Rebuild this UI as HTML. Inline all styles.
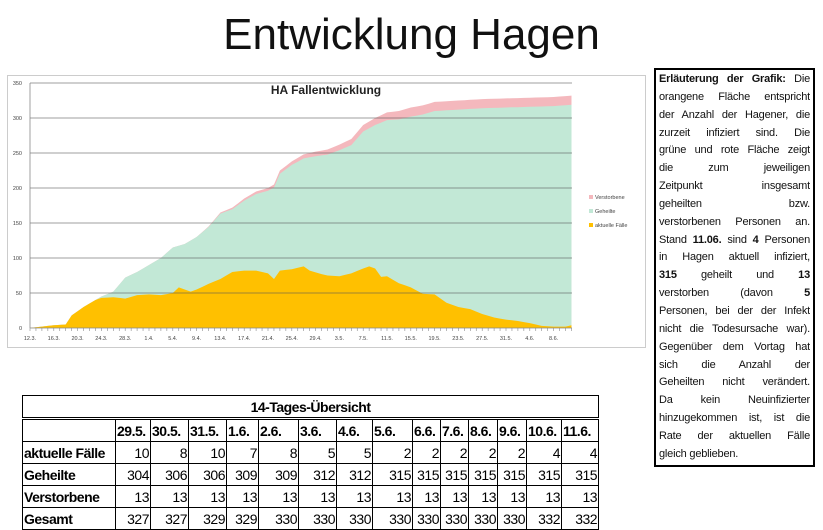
<!DOCTYPE html>
<html><head><meta charset="utf-8">
<style>
body{margin:0;width:823px;height:514px;overflow:hidden;background:#fff;font-family:"Liberation Sans",sans-serif;position:relative}
#title{position:absolute;left:0;width:823px;top:10px;text-align:center;font-size:44px;color:#111}
#box{position:absolute;left:654px;top:68px;width:151px;height:393px;border:2px solid #000;padding:1px 3px;font-size:11px;line-height:17.85px;color:#111;letter-spacing:-0.2px}
#box div{text-align:justify;text-align-last:justify;white-space:nowrap;overflow:hidden}
#box div.e{text-align-last:left}
table{position:absolute;left:22px;top:395px;border-collapse:collapse;font-size:14px;color:#000;table-layout:fixed;width:576px;letter-spacing:-0.5px}
td{border:1px solid #000;height:21px;padding:0 1px;text-align:right;line-height:20px;overflow:hidden;white-space:nowrap}
td.l{text-align:left;font-weight:bold}
tr.h td{text-align:left;font-weight:bold}
</style></head><body>
<div id="title">Entwicklung Hagen</div>
<svg width="823" height="514" style="position:absolute;left:0;top:0">
<rect x="7.5" y="75.5" width="638" height="272" fill="#fff" stroke="#ccc"/>
<g id="g"></g>
<text x="326" y="94" font-size="12" text-anchor="middle" font-weight="bold" fill="#222">HA Fallentwicklung</text>
<rect x="589" y="195" width="4" height="4" fill="#f4b8bd"/><text x="595" y="199" font-size="5.5" fill="#444">Verstorbene</text>
<rect x="589" y="209" width="4" height="4" fill="#c2e8d6"/><text x="595" y="213" font-size="5.5" fill="#444">Geheilte</text>
<rect x="589" y="223" width="4" height="4" fill="#ffc000"/><text x="595" y="227" font-size="5.5" fill="#444">aktuelle Fälle</text>
</svg>
<div id="box">
<div><b>Erläuterung der Grafik:</b> Die</div>
<div>orangene Fläche entspricht</div>
<div>der Anzahl der Hagener, die</div>
<div>zurzeit infiziert sind. Die</div>
<div>grüne und rote Fläche zeigt</div>
<div>die zum jeweiligen</div>
<div>Zeitpunkt insgesamt</div>
<div>geheilten bzw.</div>
<div>verstorbenen Personen an.</div>
<div>Stand <b>11.06.</b> sind <b>4</b> Personen</div>
<div>in Hagen aktuell infiziert,</div>
<div><b>315</b> geheilt und <b>13</b></div>
<div>verstorben (davon <b>5</b></div>
<div>Personen, bei der der Infekt</div>
<div>nicht die Todesursache war).</div>
<div>Gegenüber dem Vortag hat</div>
<div>sich die Anzahl der</div>
<div>Geheilten nicht verändert.</div>
<div>Da kein Neuinfizierter</div>
<div>hinzugekommen ist, ist die</div>
<div>Rate der aktuellen Fälle</div>
<div class="e">gleich geblieben.</div>
</div>
<table>
<colgroup><col style="width:93px"><col style="width:35px"><col style="width:38px"><col style="width:38px"><col style="width:32px"><col style="width:40px"><col style="width:38px"><col style="width:36px"><col style="width:40px"><col style="width:28px"><col style="width:28px"><col style="width:29px"><col style="width:29px"><col style="width:35px"><col style="width:37px"></colgroup>
<tr><td colspan="15" style="text-align:center;font-weight:bold;border-bottom:3px double #000">14-Tages-Übersicht</td></tr>
<tr class="h"><td></td><td>29.5.</td><td>30.5.</td><td>31.5.</td><td>1.6.</td><td>2.6.</td><td>3.6.</td><td>4.6.</td><td>5.6.</td><td>6.6.</td><td>7.6.</td><td>8.6.</td><td>9.6.</td><td>10.6.</td><td>11.6.</td></tr>
<tr><td class="l">aktuelle Fälle</td><td>10</td><td>8</td><td>10</td><td>7</td><td>8</td><td>5</td><td>5</td><td>2</td><td>2</td><td>2</td><td>2</td><td>2</td><td>4</td><td>4</td></tr>
<tr><td class="l">Geheilte</td><td>304</td><td>306</td><td>306</td><td>309</td><td>309</td><td>312</td><td>312</td><td>315</td><td>315</td><td>315</td><td>315</td><td>315</td><td>315</td><td>315</td></tr>
<tr><td class="l">Verstorbene</td><td>13</td><td>13</td><td>13</td><td>13</td><td>13</td><td>13</td><td>13</td><td>13</td><td>13</td><td>13</td><td>13</td><td>13</td><td>13</td><td>13</td></tr>
<tr><td class="l">Gesamt</td><td>327</td><td>327</td><td>329</td><td>329</td><td>330</td><td>330</td><td>330</td><td>330</td><td>330</td><td>330</td><td>330</td><td>330</td><td>332</td><td>332</td></tr>
</table>
<script>
var X0=30,DX=5.95,Y0=328,S=0.7;
function interp(k,d){for(var i=0;i<k.length-1;i++){if(d>=k[i][0]&&d<=k[i+1][0]){var t=(d-k[i][0])/(k[i+1][0]-k[i][0]);return k[i][1]+t*(k[i+1][1]-k[i][1]);}}return k[k.length-1][1];}
var act=[[0,0],[2,2],[4,4],[6,5],[7,18],[9,30],[11,40],[12,43],[14,44],[16,42],[18,47],[20,48],[22,47],[24,50],[25,58],[26,55],[27,52],[28,55],[30,63],[32,70],[34,80],[36,82],[38,82],[40,78],[41,70],[42,82],[44,84],[46,88],[47,82],[49,77],[50,75],[52,74],[54,78],[56,85],[57,88],[58,85],[59,73],[60,74],[62,64],[64,58],[66,49],[68,48],[70,36],[72,30],[74,27],[76,20],[78,15],[80,12],[82,10],[84,7],[86,3],[88,2],[90,2],[91,4]];
var tot=[[0,0],[2,2],[4,4],[6,5],[7,18],[9,30],[11,40],[12,45],[14,52],[16,72],[18,80],[20,90],[22,100],[24,115],[26,120],[28,130],[30,145],[32,165],[34,172],[36,185],[38,195],[40,200],[41,205],[42,225],[44,238],[46,248],[48,252],[50,255],[52,262],[54,270],[56,290],[58,300],[60,308],[62,310],[64,315],[66,318],[68,323],[72,325],[76,327],[80,328],[84,329],[88,330],[91,332]];
var dead=[[0,0],[28,0],[36,3],[44,5],[52,8],[58,10],[64,13],[91,13]];
function path(f,c){var s="M"+X0+","+Y0;for(var d=0;d<=91;d++){var v=f(d);s+=" L"+(X0+d*DX).toFixed(1)+","+(Y0-v*S).toFixed(1);}s+=" L"+(X0+91*DX)+","+Y0+"Z";return '<path d="'+s+'" fill="'+c+'"/>';}
var h="";
h+=path(function(d){return Math.max(interp(tot,d),interp(act,d));},"#f4b8bd");
h+=path(function(d){return Math.max(interp(tot,d)-interp(dead,d),interp(act,d));},"#c2e8d6");
h+=path(function(d){return interp(act,d);},"#ffc000");
for(var v=50;v<=350;v+=50){var y=Y0-v*S;h+='<line x1="'+X0+'" x2="572" y1="'+y+'" y2="'+y+'" stroke="#555" stroke-width="0.8" opacity="0.75"/>';}
for(var v=0;v<=350;v+=50){var y=Y0-v*S;h+='<text x="22" y="'+(y+2)+'" font-size="5.5" text-anchor="end" fill="#444">'+v+'</text>';}
h+='<line x1="'+X0+'" x2="'+X0+'" y1="83" y2="328" stroke="#888" stroke-width="0.8"/><line x1="'+X0+'" x2="572" y1="328" y2="328" stroke="#888" stroke-width="0.8"/>';
var labs=["12.3.","16.3.","20.3.","24.3.","28.3.","1.4.","5.4.","9.4.","13.4.","17.4.","21.4.","25.4.","29.4.","3.5.","7.5.","11.5.","15.5.","19.5.","23.5.","27.5.","31.5.","4.6.","8.6."];
for(var d=0;d<=91;d++){var x=X0+d*DX;h+='<line x1="'+x+'" x2="'+x+'" y1="328" y2="331" stroke="#888" stroke-width="0.6"/>';}
for(var i=0;i<labs.length;i++){h+='<text x="'+(X0+i*4*DX)+'" y="340" font-size="5.5" text-anchor="middle" fill="#444">'+labs[i]+'</text>';}
document.getElementById("g").innerHTML=h;
</script>
</body></html>
